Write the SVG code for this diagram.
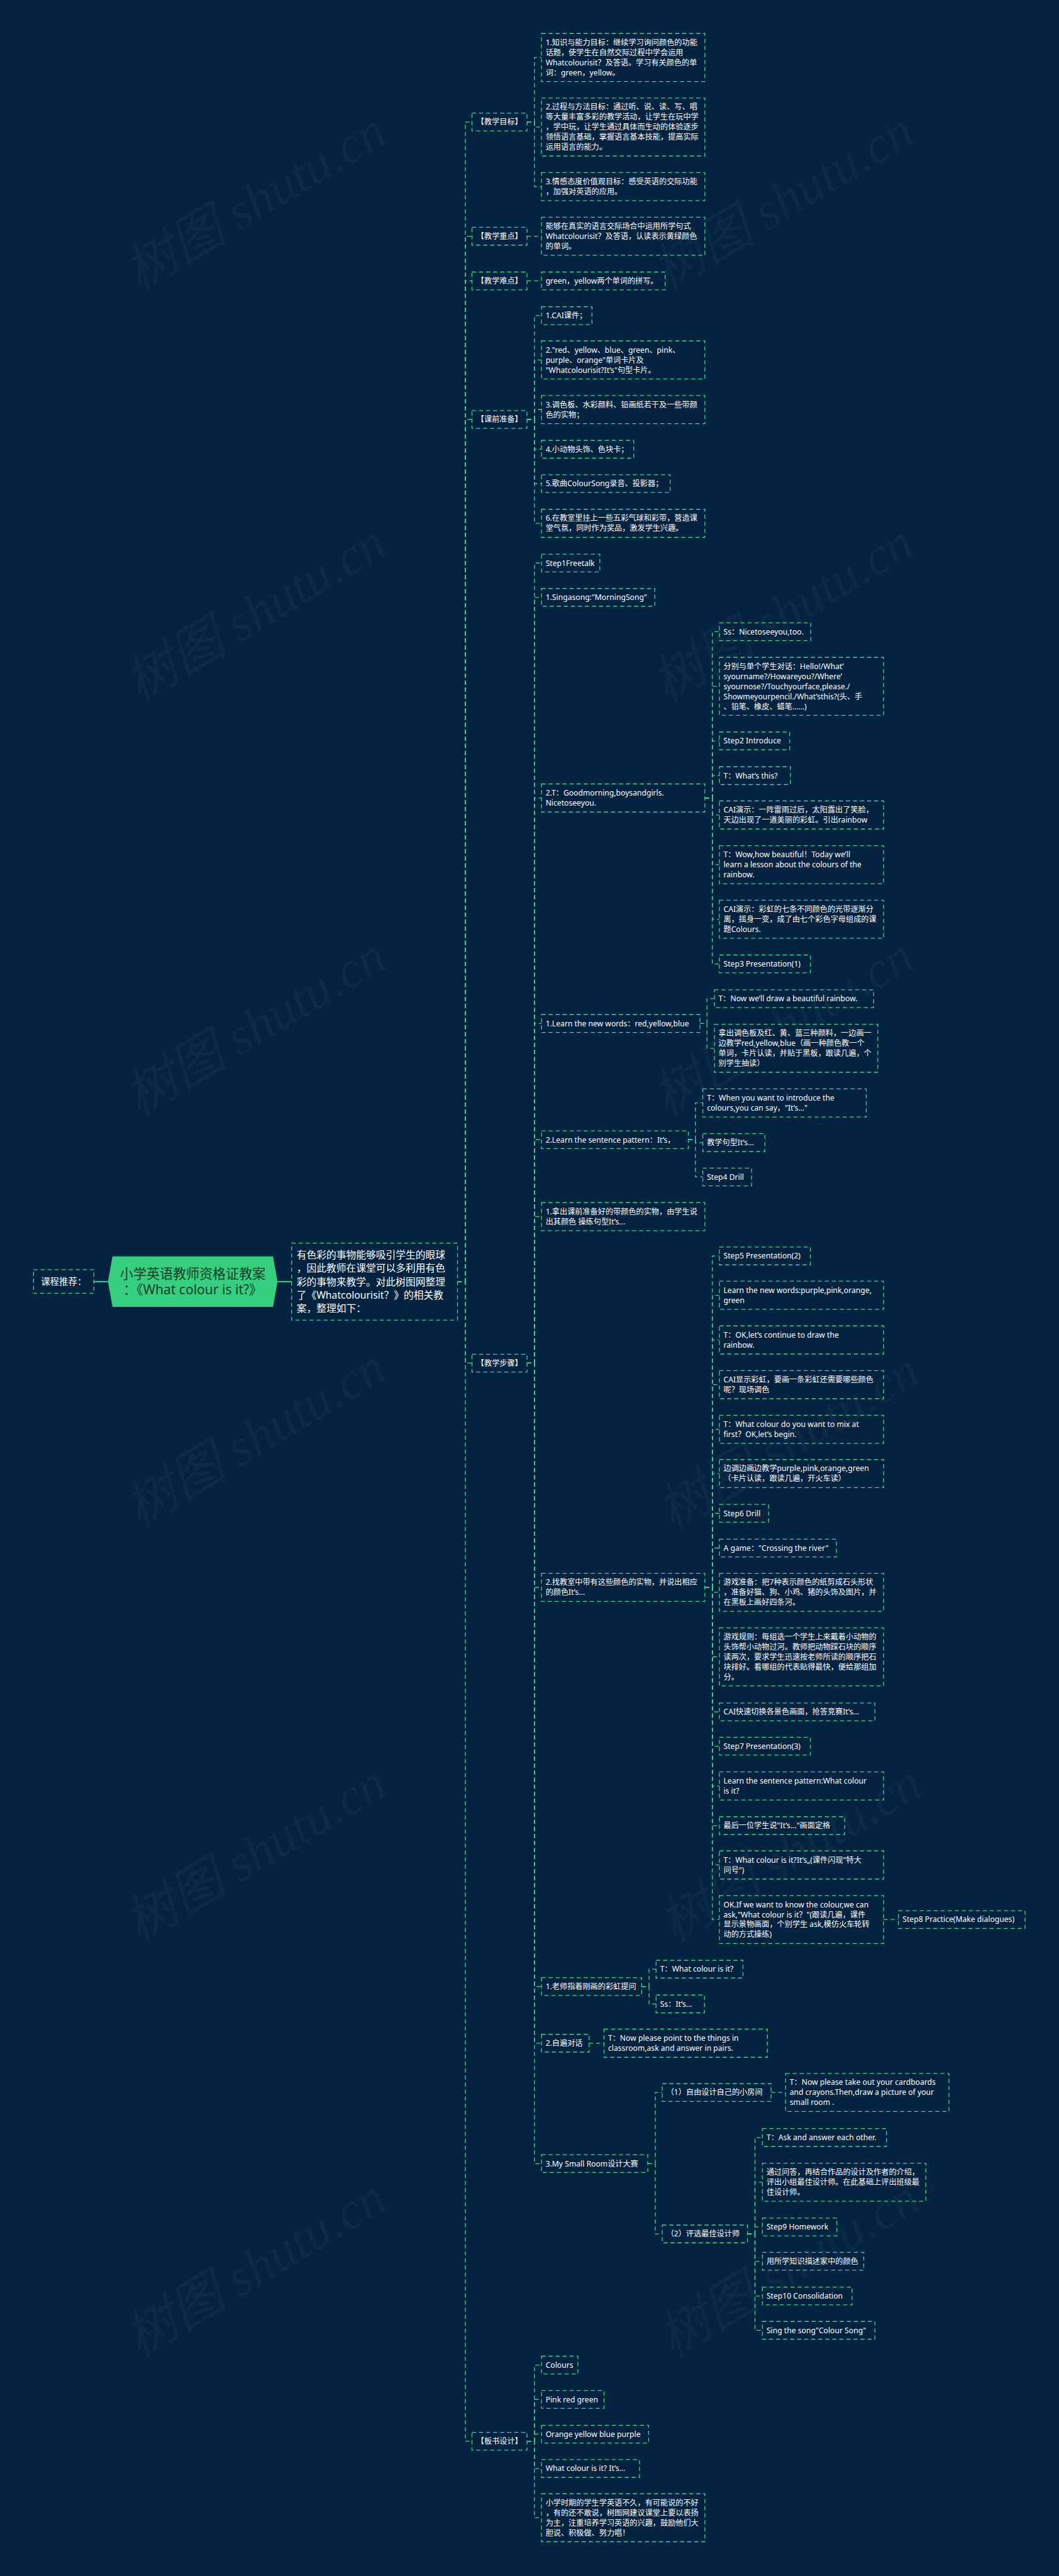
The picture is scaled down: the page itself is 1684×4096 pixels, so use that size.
<svg xmlns="http://www.w3.org/2000/svg" width="1684" height="4096" viewBox="0 0 1684 4096">
<defs>
<style>
.bg{fill:#032340}
.b{fill:none;stroke:#3fd48a;stroke-width:2;stroke-dasharray:10 7}
.c{fill:none;stroke:#3fd48a;stroke-width:2;stroke-dasharray:10 7}
.s{fill:none;stroke:#3fd48a;stroke-width:3}
.t{fill:#ffffff;font-family:"Noto Sans","Noto Sans CJK SC",sans-serif;font-size:18.5px}
.l1{fill:#ffffff;font-family:"Noto Sans","Noto Sans CJK SC",sans-serif;font-size:18.5px;text-anchor:middle}
.d{fill:#ffffff;font-family:"Noto Sans","Noto Sans CJK SC",sans-serif;font-size:24px}
.r{fill:#173a27;font-family:"Noto Sans","Noto Sans CJK SC",sans-serif;font-size:32px;text-anchor:middle}
.wm{fill:#ffffff;fill-opacity:0.035;font-family:"Liberation Serif","Noto Sans CJK SC",serif;font-style:italic;font-size:126px}
</style>
</defs>
<rect class="bg" x="0" y="0" width="1684" height="4096"/>
<g transform="scale(0.6578)">
<g id="watermarks">
<text class="wm" x="1611" y="705" transform="rotate(-31 1611 705)">树图 shutu.cn</text>
<text class="wm" x="1611" y="1700" transform="rotate(-31 1611 1700)">树图 shutu.cn</text>
<text class="wm" x="1611" y="2700" transform="rotate(-31 1611 2700)">树图 shutu.cn</text>
<text class="wm" x="1625" y="3702" transform="rotate(-31 1625 3702)">树图 shutu.cn</text>
<text class="wm" x="1630" y="4698" transform="rotate(-31 1630 4698)">树图 shutu.cn</text>
<text class="wm" x="1625" y="5700" transform="rotate(-31 1625 5700)">树图 shutu.cn</text>
<text class="wm" x="336" y="705" transform="rotate(-31 336 705)">树图 shutu.cn</text>
<text class="wm" x="336" y="1700" transform="rotate(-31 336 1700)">树图 shutu.cn</text>
<text class="wm" x="336" y="2700" transform="rotate(-31 336 2700)">树图 shutu.cn</text>
<text class="wm" x="336" y="3693" transform="rotate(-31 336 3693)">树图 shutu.cn</text>
<text class="wm" x="336" y="4698" transform="rotate(-31 336 4698)">树图 shutu.cn</text>
<text class="wm" x="336" y="5700" transform="rotate(-31 336 5700)">树图 shutu.cn</text>
</g>
<g id="connectors">
<path class="s" d="M227 3098 H261"/>
<path class="s" d="M671 3098 H705"/>
<path class="c" d="M1106 3098 H1125 V295 H1141"/>
<path class="c" d="M1106 3098 H1125 V571 H1141"/>
<path class="c" d="M1106 3098 H1125 V679 H1141"/>
<path class="c" d="M1106 3098 H1125 V1014 H1141"/>
<path class="c" d="M1106 3098 H1125 V3295 H1141"/>
<path class="c" d="M1106 3098 H1125 V5901 H1141"/>
<path class="c" d="M1274 295 H1292 V139 H1309"/>
<path class="c" d="M1274 295 H1292 V307 H1309"/>
<path class="c" d="M1274 295 H1292 V451 H1309"/>
<path class="c" d="M1274 571 H1309"/>
<path class="c" d="M1274 679 H1309"/>
<path class="c" d="M1274 1014 H1292 V763 H1309"/>
<path class="c" d="M1274 1014 H1292 V870 H1309"/>
<path class="c" d="M1274 1014 H1292 V990 H1309"/>
<path class="c" d="M1274 1014 H1292 V1086 H1309"/>
<path class="c" d="M1274 1014 H1292 V1169 H1309"/>
<path class="c" d="M1274 1014 H1292 V1265 H1309"/>
<path class="c" d="M1274 3295 H1292 V1361 H1309"/>
<path class="c" d="M1274 3295 H1292 V1444 H1309"/>
<path class="c" d="M1274 3295 H1292 V1929 H1309"/>
<path class="c" d="M1274 3295 H1292 V2474 H1309"/>
<path class="c" d="M1274 3295 H1292 V2755 H1309"/>
<path class="c" d="M1274 3295 H1292 V2941 H1309"/>
<path class="c" d="M1274 3295 H1292 V3837 H1309"/>
<path class="c" d="M1274 3295 H1292 V4802 H1309"/>
<path class="c" d="M1274 3295 H1292 V4939 H1309"/>
<path class="c" d="M1274 3295 H1292 V5230 H1309"/>
<path class="c" d="M1274 5901 H1292 V5717 H1309"/>
<path class="c" d="M1274 5901 H1292 V5800 H1309"/>
<path class="c" d="M1274 5901 H1292 V5884 H1309"/>
<path class="c" d="M1274 5901 H1292 V5967 H1309"/>
<path class="c" d="M1274 5901 H1292 V6086 H1309"/>
<path class="c" d="M1704 1929 H1722 V1527 H1739"/>
<path class="c" d="M1704 1929 H1722 V1659 H1739"/>
<path class="c" d="M1704 1929 H1722 V1791 H1739"/>
<path class="c" d="M1704 1929 H1722 V1875 H1739"/>
<path class="c" d="M1704 1929 H1722 V1970 H1739"/>
<path class="c" d="M1704 1929 H1722 V2090 H1739"/>
<path class="c" d="M1704 1929 H1722 V2222 H1739"/>
<path class="c" d="M1704 1929 H1722 V2330 H1739"/>
<path class="c" d="M1692 2474 H1709 V2414 H1727"/>
<path class="c" d="M1692 2474 H1709 V2534 H1727"/>
<path class="c" d="M1664 2755 H1681 V2666 H1699"/>
<path class="c" d="M1664 2755 H1681 V2762 H1699"/>
<path class="c" d="M1664 2755 H1681 V2845 H1699"/>
<path class="c" d="M1704 3837 H1722 V3036 H1739"/>
<path class="c" d="M1704 3837 H1722 V3131 H1739"/>
<path class="c" d="M1704 3837 H1722 V3239 H1739"/>
<path class="c" d="M1704 3837 H1722 V3347 H1739"/>
<path class="c" d="M1704 3837 H1722 V3455 H1739"/>
<path class="c" d="M1704 3837 H1722 V3562 H1739"/>
<path class="c" d="M1704 3837 H1722 V3658 H1739"/>
<path class="c" d="M1704 3837 H1722 V3742 H1739"/>
<path class="c" d="M1704 3837 H1722 V3849 H1739"/>
<path class="c" d="M1704 3837 H1722 V4005 H1739"/>
<path class="c" d="M1704 3837 H1722 V4138 H1739"/>
<path class="c" d="M1704 3837 H1722 V4221 H1739"/>
<path class="c" d="M1704 3837 H1722 V4317 H1739"/>
<path class="c" d="M1704 3837 H1722 V4413 H1739"/>
<path class="c" d="M1704 3837 H1722 V4508 H1739"/>
<path class="c" d="M1704 3837 H1722 V4640 H1739"/>
<path class="c" d="M2136 4640 H2172"/>
<path class="c" d="M1551 4802 H1569 V4760 H1586"/>
<path class="c" d="M1551 4802 H1569 V4844 H1586"/>
<path class="c" d="M1424 4939 H1460"/>
<path class="c" d="M1566 5230 H1584 V5058 H1601"/>
<path class="c" d="M1566 5230 H1584 V5400 H1601"/>
<path class="c" d="M1864 5058 H1899"/>
<path class="c" d="M1807 5400 H1825 V5167 H1843"/>
<path class="c" d="M1807 5400 H1825 V5275 H1843"/>
<path class="c" d="M1807 5400 H1825 V5383 H1843"/>
<path class="c" d="M1807 5400 H1825 V5466 H1843"/>
<path class="c" d="M1807 5400 H1825 V5550 H1843"/>
<path class="c" d="M1807 5400 H1825 V5633 H1843"/>
</g>
<g id="rec">
<rect class="b" x="81" y="3069" width="146" height="57"/>
<text class="l1" x="154" y="3106" style="font-size:22px">课程推荐：</text>
</g>
<g id="root">
<polygon points="272,3037 660,3037 671,3098 660,3159 272,3159 261,3098" fill="#35d07f"/>
<text class="r" x="466" y="3091">小学英语教师资格证教案</text>
<text class="r" x="466" y="3129">：《What colour is it?》</text>
</g>
<g id="desc">
<rect class="b" x="705" y="3005" width="401" height="186"/>
<text class="d"><tspan x="717" y="3041.5">有色彩的事物能够吸引学生的眼球</tspan><tspan x="717" y="3074.1">，因此教师在课堂可以多利用有色</tspan><tspan x="717" y="3106.7">彩的事物来教学。对此树图网整理</tspan><tspan x="717" y="3139.3">了《Whatcolourisit？》的相关教</tspan><tspan x="717" y="3171.9">案，整理如下：</tspan></text>
</g>
<g id="L1"><rect class="b" x="1141" y="273.5" width="133" height="43"/><text class="l1" x="1207.5" y="301.5">【教学目标】</text></g>
<g id="L2"><rect class="b" x="1141" y="549.5" width="133" height="43"/><text class="l1" x="1207.5" y="577.5">【教学重点】</text></g>
<g id="L3"><rect class="b" x="1141" y="657.5" width="133" height="43"/><text class="l1" x="1207.5" y="685.5">【教学难点】</text></g>
<g id="L4"><rect class="b" x="1141" y="992.5" width="133" height="43"/><text class="l1" x="1207.5" y="1020.5">【课前准备】</text></g>
<g id="L5"><rect class="b" x="1141" y="3273.5" width="133" height="43"/><text class="l1" x="1207.5" y="3301.5">【教学步骤】</text></g>
<g id="L6"><rect class="b" x="1141" y="5879.5" width="133" height="43"/><text class="l1" x="1207.5" y="5907.5">【板书设计】</text></g>
<g id="g1a"><rect class="b" x="1309" y="81" width="395" height="116"/><text class="t"><tspan x="1319" y="109">1.知识与能力目标：继续学习询问颜色的功能</tspan><tspan x="1319" y="133.4">话题，使学生在自然交际过程中学会运用</tspan><tspan x="1319" y="157.7">Whatcolourisit？及答语。学习有关颜色的单</tspan><tspan x="1319" y="182">词：green，yellow。</tspan></text></g>
<g id="g1b"><rect class="b" x="1309" y="237" width="395" height="140"/><text class="t"><tspan x="1319" y="264.9">2.过程与方法目标：通过听、说、读、写、唱</tspan><tspan x="1319" y="289.2">等大量丰富多彩的教学活动，让学生在玩中学</tspan><tspan x="1319" y="313.5">，学中玩，让学生通过具体而生动的体验逐步</tspan><tspan x="1319" y="337.8">领悟语言基础，掌握语言基本技能，提高实际</tspan><tspan x="1319" y="362.1">运用语言的能力。</tspan></text></g>
<g id="g1c"><rect class="b" x="1309" y="417" width="395" height="68"/><text class="t"><tspan x="1319" y="445.4">3.情感态度价值观目标：感受英语的交际功能</tspan><tspan x="1319" y="469.7">，加强对英语的应用。</tspan></text></g>
<g id="g2"><rect class="b" x="1309" y="525" width="395" height="92"/><text class="t"><tspan x="1319" y="553.2">能够在真实的语言交际场合中运用所学句式</tspan><tspan x="1319" y="577.5">Whatcolourisit？及答语，认读表示黄绿颜色</tspan><tspan x="1319" y="601.8">的单词。</tspan></text></g>
<g id="g3"><rect class="b" x="1309" y="657.5" width="299" height="43"/><text class="t" x="1319" y="685.5">green，yellow两个单词的拼写。</text></g>
<g id="g4a"><rect class="b" x="1309" y="741.5" width="122" height="43"/><text class="t" x="1319" y="769.5">1.CAI课件；</text></g>
<g id="g4b"><rect class="b" x="1309" y="824" width="395" height="92"/><text class="t"><tspan x="1319" y="852.2">2."red、yellow、blue、green、pink、</tspan><tspan x="1319" y="876.5">purple、orange"单词卡片及</tspan><tspan x="1319" y="900.8">"Whatcolourisit?It’s"句型卡片。</tspan></text></g>
<g id="g4c"><rect class="b" x="1309" y="956" width="395" height="68"/><text class="t"><tspan x="1319" y="984.4">3.调色板、水彩颜料、铅画纸若干及一些带颜</tspan><tspan x="1319" y="1008.7">色的实物；</tspan></text></g>
<g id="g4d"><rect class="b" x="1309" y="1064.5" width="223" height="43"/><text class="t" x="1319" y="1092.5">4.小动物头饰、色块卡；</text></g>
<g id="g4e"><rect class="b" x="1309" y="1147.5" width="311" height="43"/><text class="t" x="1319" y="1175.5">5.歌曲ColourSong录音、投影器；</text></g>
<g id="g4f"><rect class="b" x="1309" y="1231" width="395" height="68"/><text class="t"><tspan x="1319" y="1259.4">6.在教室里挂上一些五彩气球和彩带，营造课</tspan><tspan x="1319" y="1283.7">堂气氛，同时作为奖品，激发学生兴趣。</tspan></text></g>
<g id="s1"><rect class="b" x="1309" y="1339.5" width="141" height="43"/><text class="t" x="1319" y="1367.5">Step1Freetalk</text></g>
<g id="s2"><rect class="b" x="1309" y="1422.5" width="274" height="43"/><text class="t" x="1319" y="1450.5">1.Singasong:"MorningSong"</text></g>
<g id="s3"><rect class="b" x="1309" y="1895" width="395" height="68"/><text class="t"><tspan x="1319" y="1923.4">2.T：Goodmorning,boysandgirls.</tspan><tspan x="1319" y="1947.7">Nicetoseeyou.</tspan></text></g>
<g id="s4"><rect class="b" x="1309" y="2452.5" width="383" height="43"/><text class="t" x="1319" y="2480.5">1.Learn the new words：red,yellow,blue</text></g>
<g id="s5"><rect class="b" x="1309" y="2733.5" width="355" height="43"/><text class="t" x="1319" y="2761.5">2.Learn the sentence pattern：It’s，</text></g>
<g id="s6"><rect class="b" x="1309" y="2907" width="395" height="68"/><text class="t"><tspan x="1319" y="2935.4">1.拿出课前准备好的带颜色的实物，由学生说</tspan><tspan x="1319" y="2959.7">出其颜色 操练句型It’s...</tspan></text></g>
<g id="s7"><rect class="b" x="1309" y="3803" width="395" height="68"/><text class="t"><tspan x="1319" y="3831.4">2.找教室中带有这些颜色的实物，并说出相应</tspan><tspan x="1319" y="3855.7">的颜色It’s...</tspan></text></g>
<g id="s8"><rect class="b" x="1309" y="4780.5" width="242" height="43"/><text class="t" x="1319" y="4808.5">1.老师指着刚画的彩虹提问</text></g>
<g id="s9"><rect class="b" x="1309" y="4917.5" width="115" height="43"/><text class="t" x="1319" y="4945.5">2.自遍对话</text></g>
<g id="s10"><rect class="b" x="1309" y="5208.5" width="257" height="43"/><text class="t" x="1319" y="5236.5">3.My Small Room设计大赛</text></g>
<g id="b1"><rect class="b" x="1309" y="5695.5" width="88" height="43"/><text class="t" x="1319" y="5723.5">Colours</text></g>
<g id="b2"><rect class="b" x="1309" y="5778.5" width="151" height="43"/><text class="t" x="1319" y="5806.5">Pink red green</text></g>
<g id="b3"><rect class="b" x="1309" y="5862.5" width="259" height="43"/><text class="t" x="1319" y="5890.5">Orange yellow blue purple</text></g>
<g id="b4"><rect class="b" x="1309" y="5945.5" width="237" height="43"/><text class="t" x="1319" y="5973.5">What colour is it? It’s...</text></g>
<g id="b5"><rect class="b" x="1309" y="6028" width="395" height="116"/><text class="t"><tspan x="1319" y="6056.1">小学时期的学生学英语不久，有可能说的不好</tspan><tspan x="1319" y="6080.4">，有的还不敢说，树图网建议课堂上要以表扬</tspan><tspan x="1319" y="6104.7">为主，注重培养学习英语的兴趣，鼓励他们大</tspan><tspan x="1319" y="6129">胆说、积极做、努力唱！</tspan></text></g>
<g id="a1"><rect class="b" x="1739" y="1505.5" width="221" height="43"/><text class="t" x="1749" y="1533.5">Ss：Nicetoseeyou,too.</text></g>
<g id="a2"><rect class="b" x="1739" y="1589" width="397" height="140"/><text class="t"><tspan x="1749" y="1616.9">分别与单个学生对话：Hello!/What’</tspan><tspan x="1749" y="1641.2">syourname?/Howareyou?/Where’</tspan><tspan x="1749" y="1665.5">syournose?/Touchyourface,please./</tspan><tspan x="1749" y="1689.8">Showmeyourpencil./What’sthis?(头、手</tspan><tspan x="1749" y="1714.1">、铅笔、橡皮、蜡笔……)</tspan></text></g>
<g id="a3"><rect class="b" x="1739" y="1769.5" width="170" height="43"/><text class="t" x="1749" y="1797.5">Step2 Introduce</text></g>
<g id="a4"><rect class="b" x="1739" y="1853.5" width="172" height="43"/><text class="t" x="1749" y="1881.5">T：What’s this?</text></g>
<g id="a5"><rect class="b" x="1739" y="1936" width="397" height="68"/><text class="t"><tspan x="1749" y="1964.4">CAI演示：一阵雷雨过后，太阳露出了笑脸，</tspan><tspan x="1749" y="1988.7">天边出现了一道美丽的彩虹。引出rainbow</tspan></text></g>
<g id="a6"><rect class="b" x="1739" y="2044" width="397" height="92"/><text class="t"><tspan x="1749" y="2072.2">T：Wow,how beautiful！Today we’ll</tspan><tspan x="1749" y="2096.5">learn a lesson about the colours of the</tspan><tspan x="1749" y="2120.8">rainbow.</tspan></text></g>
<g id="a7"><rect class="b" x="1739" y="2176" width="397" height="92"/><text class="t"><tspan x="1749" y="2204.2">CAI演示：彩虹的七条不同颜色的光带逐渐分</tspan><tspan x="1749" y="2228.5">离，摇身一变，成了由七个彩色字母组成的课</tspan><tspan x="1749" y="2252.8">题Colours.</tspan></text></g>
<g id="a8"><rect class="b" x="1739" y="2308.5" width="220" height="43"/><text class="t" x="1749" y="2336.5">Step3 Presentation(1)</text></g>
<g id="bb1"><rect class="b" x="1727" y="2392.5" width="385" height="43"/><text class="t" x="1737" y="2420.5">T：Now we’ll draw a beautiful rainbow.</text></g>
<g id="bb2"><rect class="b" x="1727" y="2476" width="395" height="116"/><text class="t"><tspan x="1737" y="2504.1">拿出调色板及红、黄、蓝三种颜料，一边画一</tspan><tspan x="1737" y="2528.4">边教学red,yellow,blue（画一种颜色教一个</tspan><tspan x="1737" y="2552.7">单词，卡片认读，并贴于黑板，跟读几遍，个</tspan><tspan x="1737" y="2577">别学生抽读）</tspan></text></g>
<g id="c1"><rect class="b" x="1699" y="2632" width="395" height="68"/><text class="t"><tspan x="1709" y="2660.4">T：When you want to introduce the</tspan><tspan x="1709" y="2684.7">colours,you can say，"It’s..."</tspan></text></g>
<g id="c2"><rect class="b" x="1699" y="2740.5" width="150" height="43"/><text class="t" x="1709" y="2768.5">教学句型It’s...</text></g>
<g id="c3"><rect class="b" x="1699" y="2823.5" width="118" height="43"/><text class="t" x="1709" y="2851.5">Step4 Drill</text></g>
<g id="d1"><rect class="b" x="1739" y="3014.5" width="220" height="43"/><text class="t" x="1749" y="3042.5">Step5 Presentation(2)</text></g>
<g id="d2"><rect class="b" x="1739" y="3097" width="397" height="68"/><text class="t"><tspan x="1749" y="3125.4">Learn the new words:purple,pink,orange,</tspan><tspan x="1749" y="3149.7">green</tspan></text></g>
<g id="d3"><rect class="b" x="1739" y="3205" width="397" height="68"/><text class="t"><tspan x="1749" y="3233.4">T：OK,let’s continue to draw the</tspan><tspan x="1749" y="3257.7">rainbow.</tspan></text></g>
<g id="d4"><rect class="b" x="1739" y="3313" width="397" height="68"/><text class="t"><tspan x="1749" y="3341.4">CAI显示彩虹，要画一条彩虹还需要哪些颜色</tspan><tspan x="1749" y="3365.7">呢？现场调色</tspan></text></g>
<g id="d5"><rect class="b" x="1739" y="3421" width="397" height="68"/><text class="t"><tspan x="1749" y="3449.4">T：What colour do you want to mix at</tspan><tspan x="1749" y="3473.7">first？OK,let’s begin.</tspan></text></g>
<g id="d6"><rect class="b" x="1739" y="3528" width="397" height="68"/><text class="t"><tspan x="1749" y="3556.4">边调边画边教学purple,pink,orange,green</tspan><tspan x="1749" y="3580.7">（卡片认读，跟读几遍，开火车读）</tspan></text></g>
<g id="d7"><rect class="b" x="1739" y="3636.5" width="119" height="43"/><text class="t" x="1749" y="3664.5">Step6 Drill</text></g>
<g id="d8"><rect class="b" x="1739" y="3720.5" width="283" height="43"/><text class="t" x="1749" y="3748.5">A game："Crossing the river"</text></g>
<g id="d9"><rect class="b" x="1739" y="3803" width="397" height="92"/><text class="t"><tspan x="1749" y="3831.2">游戏准备：把7种表示颜色的纸剪成石头形状</tspan><tspan x="1749" y="3855.5">，准备好猫、狗、小鸡、猪的头饰及图片，并</tspan><tspan x="1749" y="3879.8">在黑板上画好四条河。</tspan></text></g>
<g id="d10"><rect class="b" x="1739" y="3935" width="397" height="140"/><text class="t"><tspan x="1749" y="3962.9">游戏规则：每组选一个学生上来戴着小动物的</tspan><tspan x="1749" y="3987.2">头饰帮小动物过河。教师把动物踩石块的顺序</tspan><tspan x="1749" y="4011.5">读两次，要求学生迅速按老师所读的顺序把石</tspan><tspan x="1749" y="4035.8">块排好。看哪组的代表贴得最快，便给那组加</tspan><tspan x="1749" y="4060.1">分。</tspan></text></g>
<g id="d11"><rect class="b" x="1739" y="4116.5" width="376" height="43"/><text class="t" x="1749" y="4144.5">CAI快速切换各景色画面，抢答竞赛It’s...</text></g>
<g id="d12"><rect class="b" x="1739" y="4199.5" width="220" height="43"/><text class="t" x="1749" y="4227.5">Step7 Presentation(3)</text></g>
<g id="d13"><rect class="b" x="1739" y="4283" width="397" height="68"/><text class="t"><tspan x="1749" y="4311.4">Learn the sentence pattern:What colour</tspan><tspan x="1749" y="4335.7">is it?</tspan></text></g>
<g id="d14"><rect class="b" x="1739" y="4391.5" width="303" height="43"/><text class="t" x="1749" y="4419.5">最后一位学生说"It’s..."画面定格</text></g>
<g id="d15"><rect class="b" x="1739" y="4474" width="397" height="68"/><text class="t"><tspan x="1749" y="4502.4">T：What colour is it?It’s„(课件闪现"特大</tspan><tspan x="1749" y="4526.7">问号")</tspan></text></g>
<g id="d16"><rect class="b" x="1739" y="4582" width="397" height="116"/><text class="t"><tspan x="1749" y="4610.1">OK.If we want to know the colour,we can</tspan><tspan x="1749" y="4634.4">ask,"What colour is it？"(跟读几遍，课件</tspan><tspan x="1749" y="4658.7">显示景物画面，个别学生 ask,模仿火车轮转</tspan><tspan x="1749" y="4683">动的方式操练)</tspan></text></g>
<g id="step8"><rect class="b" x="2172" y="4618.5" width="306" height="43"/><text class="t" x="2182" y="4646.5">Step8 Practice(Make dialogues)</text></g>
<g id="e1"><rect class="b" x="1586" y="4738.5" width="210" height="43"/><text class="t" x="1596" y="4766.5">T：What colour is it?</text></g>
<g id="e2"><rect class="b" x="1586" y="4822.5" width="117" height="43"/><text class="t" x="1596" y="4850.5">Ss：It’s...</text></g>
<g id="f1"><rect class="b" x="1460" y="4905" width="395" height="68"/><text class="t"><tspan x="1470" y="4933.4">T：Now please point to the things in</tspan><tspan x="1470" y="4957.7">classroom,ask and answer in pairs.</tspan></text></g>
<g id="p1"><rect class="b" x="1601" y="5036.5" width="263" height="43"/><text class="t" x="1611" y="5064.5">（1）自由设计自己的小房间</text></g>
<g id="p2"><rect class="b" x="1601" y="5378.5" width="206" height="43"/><text class="t" x="1611" y="5406.5">（2）评选最佳设计师</text></g>
<g id="h1"><rect class="b" x="1899" y="5012" width="395" height="92"/><text class="t"><tspan x="1909" y="5040.2">T：Now please take out your cardboards</tspan><tspan x="1909" y="5064.5">and crayons.Then,draw a picture of your</tspan><tspan x="1909" y="5088.8">small room .</tspan></text></g>
<g id="i1"><rect class="b" x="1843" y="5145.5" width="300" height="43"/><text class="t" x="1853" y="5173.5">T：Ask and answer each other.</text></g>
<g id="i2"><rect class="b" x="1843" y="5229" width="395" height="92"/><text class="t"><tspan x="1853" y="5257.2">通过问答，再结合作品的设计及作者的介绍，</tspan><tspan x="1853" y="5281.5">评出小组最佳设计师。在此基础上评出班级最</tspan><tspan x="1853" y="5305.8">佳设计师。</tspan></text></g>
<g id="i3"><rect class="b" x="1843" y="5361.5" width="180" height="43"/><text class="t" x="1853" y="5389.5">Step9 Homework</text></g>
<g id="i4"><rect class="b" x="1843" y="5444.5" width="245" height="43"/><text class="t" x="1853" y="5472.5">用所学知识描述家中的颜色</text></g>
<g id="i5"><rect class="b" x="1843" y="5528.5" width="217" height="43"/><text class="t" x="1853" y="5556.5">Step10 Consolidation</text></g>
<g id="i6"><rect class="b" x="1843" y="5611.5" width="272" height="43"/><text class="t" x="1853" y="5639.5">Sing the song"Colour Song"</text></g>
</g>
</svg>
